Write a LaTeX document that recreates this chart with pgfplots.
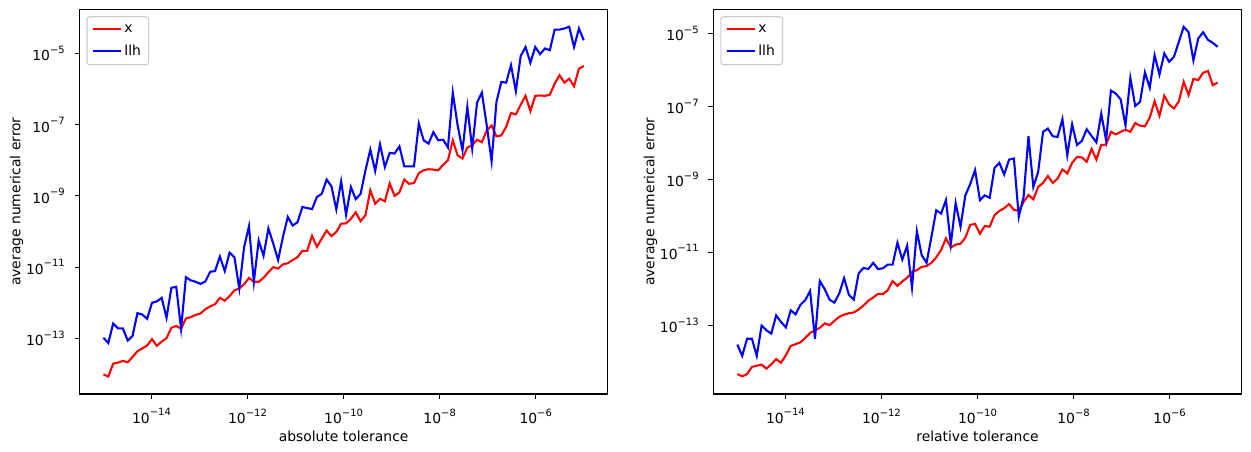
\documentclass[border=0pt]{standalone}
\usepackage{fontspec}
\setmainfont{DejaVu Sans}
\usepackage{pgfplots}
\usepackage{pgfplotstable}
\pgfplotsset{compat=1.18}

% x = log10(tolerance), red = log10(error of x), blue = log10(error of llh)
\pgfplotstableread{
x red blue
-15.000 -14.01 -12.98
-14.899 -14.07 -13.13
-14.798 -13.71 -12.58
-14.697 -13.68 -12.72
-14.596 -13.63 -12.72
-14.495 -13.67 -13.06
-14.394 -13.52 -12.93
-14.293 -13.36 -12.29
-14.192 -13.28 -12.33
-14.091 -13.20 -12.45
-13.990 -13.02 -12.00
-13.889 -13.21 -11.96
-13.788 -13.09 -11.86
-13.687 -12.99 -12.42
-13.586 -12.70 -11.58
-13.485 -12.65 -11.55
-13.384 -12.73 -12.73
-13.283 -12.44 -11.28
-13.182 -12.40 -11.37
-13.081 -12.34 -11.41
-12.980 -12.30 -11.47
-12.879 -12.18 -11.40
-12.778 -12.10 -11.13
-12.677 -12.04 -11.11
-12.576 -11.86 -10.70
-12.475 -11.94 -11.11
-12.374 -11.81 -10.59
-12.273 -11.65 -10.72
-12.172 -11.60 -11.60
-12.071 -11.48 -10.43
-11.970 -11.30 -9.85
-11.869 -11.41 -11.41
-11.768 -11.41 -10.25
-11.667 -11.30 -10.68
-11.566 -11.14 -9.91
-11.465 -11.00 -10.34
-11.364 -11.04 -10.80
-11.263 -10.92 -10.15
-11.162 -10.89 -9.59
-11.061 -10.80 -9.83
-10.960 -10.72 -9.74
-10.859 -10.54 -9.31
-10.758 -10.54 -9.34
-10.657 -10.12 -9.37
-10.556 -10.43 -9.03
-10.455 -10.20 -8.94
-10.354 -9.97 -8.54
-10.253 -10.13 -8.73
-10.152 -10.01 -9.38
-10.051 -9.78 -8.59
-9.949 -9.77 -9.53
-9.848 -9.64 -8.75
-9.747 -9.46 -9.09
-9.646 -9.71 -8.94
-9.545 -9.54 -8.28
-9.444 -8.84 -7.70
-9.343 -9.22 -8.30
-9.242 -9.08 -7.55
-9.141 -9.15 -8.19
-9.040 -8.65 -7.79
-8.939 -9.00 -7.81
-8.838 -8.90 -7.61
-8.737 -8.54 -8.17
-8.636 -8.66 -8.17
-8.535 -8.64 -8.17
-8.434 -8.36 -6.97
-8.333 -8.28 -7.44
-8.232 -8.25 -7.53
-8.131 -8.26 -7.21
-8.030 -8.28 -7.44
-7.929 -8.13 -7.42
-7.828 -8.00 -7.64
-7.727 -7.44 -6.10
-7.626 -7.86 -7.02
-7.525 -7.95 -7.72
-7.424 -7.64 -6.50
-7.323 -7.58 -7.67
-7.222 -7.42 -6.38
-7.121 -7.49 -6.10
-7.020 -7.16 -7.02
-6.919 -7.02 -8.03
-6.818 -7.33 -6.36
-6.717 -7.30 -5.80
-6.616 -7.06 -5.82
-6.515 -6.67 -5.33
-6.414 -6.71 -6.06
-6.313 -6.44 -5.07
-6.212 -6.19 -4.82
-6.111 -6.62 -5.26
-6.010 -6.19 -4.82
-5.909 -6.18 -5.02
-5.808 -6.19 -4.86
-5.707 -6.16 -4.91
-5.606 -5.85 -4.33
-5.505 -5.61 -4.33
-5.404 -5.82 -4.30
-5.303 -5.71 -4.25
-5.202 -5.92 -4.82
-5.101 -5.43 -4.30
-5.000 -5.35 -4.63
}\absdata

\pgfplotstableread{
x red blue
-15.000 -14.34 -13.53
-14.899 -14.40 -13.84
-14.798 -14.34 -13.37
-14.697 -14.14 -13.37
-14.596 -14.11 -13.84
-14.495 -14.08 -13.01
-14.394 -14.19 -13.14
-14.293 -14.07 -13.23
-14.192 -13.93 -12.73
-14.091 -14.03 -12.91
-13.990 -13.82 -13.06
-13.889 -13.57 -12.59
-13.788 -13.52 -12.70
-13.687 -13.47 -12.44
-13.586 -13.35 -12.31
-13.485 -13.21 -12.06
-13.384 -13.14 -13.37
-13.283 -13.07 -11.79
-13.182 -12.95 -12.01
-13.081 -13.00 -12.30
-12.980 -12.88 -12.38
-12.879 -12.77 -12.13
-12.778 -12.71 -11.71
-12.677 -12.67 -12.17
-12.576 -12.65 -12.30
-12.475 -12.57 -11.58
-12.374 -12.46 -11.43
-12.273 -12.33 -11.46
-12.172 -12.24 -11.29
-12.071 -12.14 -11.46
-11.970 -12.15 -11.44
-11.869 -12.04 -11.34
-11.768 -11.79 -11.34
-11.667 -11.92 -10.74
-11.566 -11.80 -11.20
-11.465 -11.70 -10.82
-11.364 -11.54 -11.97
-11.263 -11.49 -10.42
-11.162 -11.40 -11.08
-11.061 -11.38 -11.29
-10.960 -11.29 -10.58
-10.859 -11.14 -9.85
-10.758 -10.94 -9.94
-10.657 -10.62 -9.57
-10.556 -10.87 -10.78
-10.455 -10.79 -9.65
-10.354 -10.77 -10.30
-10.253 -10.60 -9.44
-10.152 -10.25 -9.13
-10.051 -10.22 -8.75
-9.949 -10.49 -9.57
-9.848 -10.28 -9.44
-9.747 -10.30 -9.51
-9.646 -9.98 -8.69
-9.545 -9.87 -8.55
-9.444 -9.79 -8.87
-9.343 -9.68 -8.46
-9.242 -9.84 -8.43
-9.141 -9.86 -10.03
-9.040 -9.62 -9.48
-8.939 -9.43 -7.82
-8.838 -9.55 -9.21
-8.737 -9.21 -8.80
-8.636 -9.10 -7.70
-8.535 -8.91 -7.61
-8.434 -9.10 -7.82
-8.333 -8.98 -7.84
-8.232 -8.73 -7.35
-8.131 -8.84 -8.34
-8.030 -8.55 -7.49
-7.929 -8.39 -8.06
-7.828 -8.40 -7.95
-7.727 -8.52 -7.63
-7.626 -8.17 -7.81
-7.525 -8.46 -7.99
-7.424 -8.06 -7.20
-7.323 -8.05 -7.93
-7.222 -7.70 -6.57
-7.121 -7.77 -6.65
-7.020 -7.70 -6.81
-6.919 -7.64 -7.52
-6.818 -7.70 -6.22
-6.717 -7.46 -6.99
-6.616 -7.53 -6.88
-6.515 -7.55 -6.07
-6.414 -7.31 -6.49
-6.313 -6.86 -5.60
-6.212 -7.26 -6.13
-6.111 -6.71 -5.55
-6.010 -6.95 -5.78
-5.909 -7.06 -5.64
-5.808 -6.86 -5.23
-5.707 -6.33 -4.82
-5.606 -6.69 -4.97
-5.505 -6.25 -5.74
-5.404 -6.28 -5.14
-5.303 -6.08 -4.97
-5.202 -6.03 -5.18
-5.101 -6.42 -5.26
-5.000 -6.35 -5.37
}\reldata

\newcommand{\tsup}[1]{10\raisebox{0.55em}{\fontsize{7.2}{8}\selectfont #1}}

\pgfplotsset{
  mplstyle/.style={
    scale only axis,
    width=380.4pt, height=277pt,
    anchor=south west,
    axis line style={line width=0.8pt},
    tick align=outside,
    tick pos=lower,
    major tick length=3.5pt,
    major tick style={line width=0.8pt, black},
    minor tick num=0,
    xmin=-15.5, xmax=-4.5,
    xtick={-14,-12,-10,-8,-6},
    xticklabels={\tsup{−14},\tsup{−12},\tsup{−10},\tsup{−8},\tsup{−6}},
    ytick={-13,-11,-9,-7,-5},
    yticklabels={\tsup{−13},\tsup{−11},\tsup{−9},\tsup{−7},\tsup{−5}},
    tick label style={font=\fontsize{10}{12}\selectfont},
    xticklabel style={yshift=-3.5pt},
    yticklabel style={xshift=-3.5pt},
    label style={font=\fontsize{10}{12}\selectfont},
    ylabel style={at={(axis description cs:-0.119,0.5)}, anchor=center},
    xlabel style={at={(axis description cs:0.5,-0.109)}, anchor=center},
    legend style={at={(0,1)}, anchor=north west, xshift=5pt, yshift=-5pt,
      draw=black!20, line width=0.8pt, rounded corners=2pt, fill=white,
      font=\fontsize{10}{12}\selectfont, inner xsep=3.5pt, inner ysep=3.5pt,
      row sep=3.5pt, cells={anchor=west}},
    legend image code/.code={\draw[##1, line width=1.5pt] (0pt,0pt) -- (20pt,0pt);},
  },
}

\begin{document}
\begin{tikzpicture}
\useasboundingbox (0,0) rectangle (900.72pt,325.44pt);
\fill[white] (0,0) rectangle (900.72pt,325.44pt);
\begin{axis}[mplstyle, at={(57.2pt,41.76pt)},
  ymin=-14.56, ymax=-3.76,
  xlabel={absolute tolerance}, ylabel={average numerical error}]
\addplot[red, line width=1.5pt] table[x=x, y=red] {\absdata};
\addplot[blue, line width=1.5pt] table[x=x, y=blue] {\absdata};
\legend{x, llh}
\end{axis}
\begin{axis}[mplstyle, at={(513.6pt,41.76pt)},
  ymin=-14.885, ymax=-4.34,
  xlabel={relative tolerance}, ylabel={average numerical error}]
\addplot[red, line width=1.5pt] table[x=x, y=red] {\reldata};
\addplot[blue, line width=1.5pt] table[x=x, y=blue] {\reldata};
\legend{x, llh}
\end{axis}
\end{tikzpicture}
\end{document}
